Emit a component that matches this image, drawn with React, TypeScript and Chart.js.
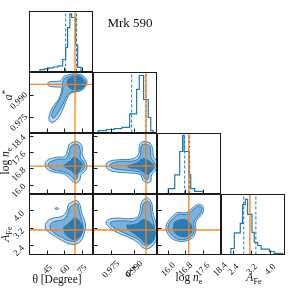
import React, { useEffect, useRef } from "react";
import { Chart, registerables } from "chart.js";
Chart.register(...registerables);

// ---------------- data ----------------
const THETA_X_RANGE = [29.2, 83.9];
const ASTAR_X_RANGE = [0.9637, 1.0043];
const ASTAR_Y_RANGE = [0.9646, 1.0056];
const LOGNE_X_RANGE = [15.49, 18.41];
const LOGNE_Y_RANGE = [15.59, 18.55];
const AFE_X_RANGE = [1.87, 4.62];
const AFE_Y_RANGE = [1.976, 4.75];
const HIST_Y_RANGE = [0, 1];

const THETA_TICKS = [45, 60, 75];
const THETA_TICK_LABELS = ["45", "60", "75"];
const ASTAR_TICKS = [0.975, 0.99];
const ASTAR_TICK_LABELS = ["0.975", "0.990"];
const LOGNE_TICKS = [16.0, 16.8, 17.6, 18.4];
const LOGNE_TICK_LABELS = ["16.0", "16.8", "17.6", "18.4"];
const AFE_TICKS = [2.4, 3.2, 4.0];
const AFE_TICK_LABELS = ["2.4", "3.2", "4.0"];

const THETA_TRUTH = 68.7;
const ASTAR_TRUTH = 0.9975;
const LOGNE_TRUTH = 16.94;
const AFE_TRUTH = 3.11;

const THETA_QUANTILES = [60.6, 70.1];
const ASTAR_QUANTILES = [0.9883, 0.9975];
const LOGNE_QUANTILES = [16.75, 16.98];
const AFE_QUANTILES = [2.84, 3.37];

const thetaHistEdges = [38.3, 42, 46, 50, 54, 58, 60.6, 62.3, 64.3, 65.8, 69.3, 71.0, 73.9, 76.7];
const thetaHistCounts = [0.015, 0.03, 0.045, 0.06, 0.075, 0.095, 0.2, 0.4, 0.73, 0.96, 0.9, 0.44, 0.07];
const aStarHistEdges = [0.9668, 0.972, 0.977, 0.982, 0.987, 0.9915, 0.9932, 0.996, 0.999, 1.0006, 1.0022, 1.0044];
const aStarHistCounts = [0.015, 0.03, 0.05, 0.065, 0.085, 0.31, 0.72, 0.95, 0.55, 0.25, 0.03];
const logNeHistEdges = [15.99, 16.29, 16.52, 16.65, 16.72, 16.95, 17.03, 17.21, 17.6, 18.4];
const logNeHistCounts = [0.02, 0.08, 0.31, 0.7, 0.97, 0.7, 0.31, 0.08, 0.035];
const aFeHistEdges = [2.28, 2.43, 2.69, 2.79, 2.91, 3.01, 3.2, 3.3, 3.45, 3.6, 3.96, 4.17, 4.54, 4.62];
const aFeHistCounts = [0.02, 0.1, 0.36, 0.52, 0.83, 0.92, 0.67, 0.37, 0.2, 0.15, 0.09, 0.05, 0.02];

type Pt = [number, number];

const thetaAStarOuter: Pt[] = [[59.4,1.0032],[65.8,1.0045],[71.6,1.0045],[76.8,1.0027],[79.1,1.0],[77.9,0.9961],[73.9,0.9932],[68.7,0.9923],[64.3,0.9909],[61.4,0.987],[58.6,0.9813],[55.1,0.9757],[51.3,0.9723],[47.9,0.9716],[46.1,0.9734],[47.0,0.9779],[49.9,0.9825],[54.2,0.987],[56.5,0.9916],[57.1,0.995],[52.8,0.9957],[47.0,0.9961],[45.0,0.9977],[46.1,0.9991],[51.3,0.9995],[56.5,1.0],[58.0,1.0018]];
const thetaAStarMid: Pt[] = [[60.0,1.0018],[67.2,1.0036],[73.9,1.0029],[77.9,0.9995],[76.5,0.9957],[72.1,0.9934],[65.8,0.9923],[62.3,0.9904],[60.0,0.987],[56.5,0.9813],[52.8,0.9768],[49.9,0.9745],[48.4,0.9763],[50.7,0.9813],[54.2,0.9859],[57.1,0.9904],[58.0,0.995],[57.7,0.9984]];
const thetaAStarInner: Pt[] = [[62.9,1.0013],[68.7,1.0029],[74.5,1.0018],[76.8,0.9984],[74.5,0.995],[68.7,0.9939],[63.8,0.9952],[62.0,0.9984]];

const thetaLogNeOuter: Pt[] = [[68.7,18.16],[73.0,18.08],[75.0,17.84],[75.0,17.51],[77.9,17.18],[79.1,16.93],[77.3,16.69],[73.9,16.52],[73.0,16.28],[70.1,16.11],[67.2,16.16],[62.9,16.39],[58.6,16.56],[49.9,16.65],[44.1,16.82],[42.7,17.05],[45.5,17.26],[52.8,17.38],[60.0,17.43],[62.3,17.75],[63.8,18.03]];
const thetaLogNeMid: Pt[] = [[68.7,18.03],[72.1,17.95],[73.3,17.67],[73.3,17.38],[76.2,17.13],[77.1,16.92],[75.0,16.72],[71.6,16.59],[70.4,16.33],[68.1,16.28],[64.3,16.49],[58.6,16.65],[50.7,16.75],[46.1,16.9],[45.5,17.05],[48.4,17.18],[54.2,17.28],[60.6,17.31],[63.5,17.59],[65.2,17.92]];
const thetaLogNeInner: Pt[] = [[58.6,16.97],[64.3,17.18],[68.1,17.38],[71.6,17.26],[75.0,17.02],[73.0,16.77],[69.3,16.52],[65.8,16.72],[61.4,16.85]];

const aStarLogNeOuter: Pt[] = [[0.99689,18.16],[1.00011,18.08],[1.00183,17.8],[1.00225,17.43],[1.0044,17.18],[1.00483,16.93],[1.00333,16.69],[1.00118,16.52],[1.00054,16.19],[0.99839,16.11],[0.99582,16.23],[0.99367,16.52],[0.98723,16.6],[0.97865,16.65],[0.97328,16.77],[0.97178,16.98],[0.97393,17.18],[0.98079,17.26],[0.98938,17.31],[0.9926,17.51],[0.99324,17.92],[0.99431,18.11]];
const aStarLogNeMid: Pt[] = [[0.9971,18.03],[0.99968,17.95],[1.00054,17.7],[1.00075,17.38],[1.00268,17.15],[1.00333,16.93],[1.00183,16.72],[0.99968,16.6],[0.99904,16.33],[0.99753,16.28],[0.99582,16.44],[0.99324,16.64],[0.98723,16.72],[0.97865,16.79],[0.97479,16.9],[0.97436,17.02],[0.9765,17.11],[0.98187,17.18],[0.99045,17.21],[0.99367,17.43],[0.99431,17.84],[0.99517,18.0]];
const aStarLogNeInner: Pt[] = [[0.98509,16.93],[0.99152,17.1],[0.99582,17.31],[0.99904,17.21],[1.00225,16.98],[1.00118,16.72],[0.99839,16.52],[0.99582,16.65],[0.99152,16.82],[0.98723,16.85]];

const thetaAFeOuter: Pt[] = [[65.8,4.4],[70.1,4.47],[73.0,4.28],[74.5,3.9],[76.8,3.59],[77.9,3.28],[76.8,2.97],[74.5,2.66],[70.1,2.46],[64.3,2.46],[58.6,2.59],[52.8,2.77],[47.0,2.97],[43.0,3.2],[44.5,3.51],[49.9,3.66],[57.1,3.74],[61.4,3.97],[62.9,4.28]];
const thetaAFeMid: Pt[] = [[67.2,4.28],[71.0,4.31],[72.4,3.97],[74.5,3.59],[75.9,3.28],[75.0,2.97],[72.4,2.71],[68.7,2.59],[62.9,2.62],[57.1,2.77],[51.3,2.94],[47.9,3.12],[47.3,3.36],[51.3,3.51],[58.6,3.59],[62.3,3.85],[64.3,4.16]];
const thetaAFeInner: Pt[] = [[58.6,3.23],[63.5,3.43],[68.7,3.66],[73.0,3.48],[75.6,3.17],[73.3,2.86],[68.7,2.66],[63.5,2.77],[60.0,2.97]];
const thetaAFeIsland: Pt[] = [[51.1,4.1],[52.8,4.14],[54.5,4.1],[52.8,4.05]];

const aStarAFeOuter: Pt[] = [[0.99582,4.51],[0.99839,4.59],[1.00118,4.36],[1.00183,3.97],[1.00333,3.59],[1.0044,3.2],[1.0044,2.74],[1.00225,2.43],[0.99904,2.25],[0.99582,2.28],[0.9926,2.51],[0.98723,2.74],[0.97972,2.97],[0.97436,3.2],[0.97178,3.43],[0.97328,3.59],[0.97865,3.66],[0.98616,3.63],[0.99152,3.69],[0.99367,3.97],[0.9941,4.28]];
const aStarAFeMid: Pt[] = [[0.99625,4.36],[0.99904,4.43],[1.00054,4.2],[1.00075,3.9],[1.00225,3.51],[1.00333,3.12],[1.00311,2.74],[1.00118,2.51],[0.99839,2.4],[0.99539,2.46],[0.9926,2.66],[0.98723,2.85],[0.98037,3.08],[0.97543,3.28],[0.97436,3.43],[0.9765,3.51],[0.98294,3.54],[0.98938,3.51],[0.9926,3.66],[0.99474,3.9],[0.99517,4.2]];
const aStarAFeInner: Pt[] = [[0.98509,3.33],[0.99152,3.39],[0.99582,3.59],[0.99904,3.51],[1.00268,3.2],[1.00268,2.74],[1.00011,2.51],[0.99689,2.51],[0.99367,2.74],[0.98938,2.97],[0.98616,3.12]];

const logNeAFeOuter: Pt[] = [[16.11,3.68],[16.42,3.91],[16.8,3.91],[17.03,4.06],[17.26,4.25],[17.44,4.3],[17.6,4.19],[17.6,3.91],[17.41,3.68],[17.26,3.45],[17.26,3.06],[17.11,2.75],[16.8,2.6],[16.42,2.6],[16.11,2.75],[15.91,3.06],[15.91,3.37]];
const logNeAFeMid: Pt[] = [[16.19,3.63],[16.46,3.83],[16.83,3.83],[17.08,3.99],[17.29,4.17],[17.44,4.22],[17.54,4.11],[17.5,3.91],[17.34,3.71],[17.18,3.48],[17.18,3.06],[17.03,2.8],[16.77,2.68],[16.45,2.68],[16.19,2.83],[16.0,3.09],[16.0,3.36]];
const logNeAFeInner: Pt[] = [[16.26,3.45],[16.49,3.57],[16.8,3.57],[17.03,3.37],[17.08,3.06],[16.92,2.86],[16.65,2.8],[16.37,2.91],[16.23,3.14]];

// ---------------- style / layout ----------------
const W = 292;
const H = 291;
const COL_LEFT = [29.5, 93.5, 157.5, 221.5];
const ROW_TOP = [11.5, 72.5, 133.5, 194.5];
const PANEL_W = 63;
const PANEL_H = 60;
const BLUE = "#1f77b4";
const FILL_OUTER = "#bdd6eb";
const FILL_MID = "#7cb0d8";
const FILL_INNER = "#2b7bb7";
const ORANGE = "rgba(255,127,14,0.92)";
const SPINE = "#1a1a1a";
const FONT = '"Liberation Serif", "Times New Roman", serif';
const TICK_FONT = 9;
const TICK_LEN = 4;
const XLABEL_CENTER_OFFSET = 15;
const YLABEL_CENTER_OFFSET_X = 10.5;
const YLABEL_CENTER_OFFSET_Y = 5.5;

const VARS: any = {
  theta: { xRange: THETA_X_RANGE, ticks: THETA_TICKS, labels: THETA_TICK_LABELS, truth: THETA_TRUTH, q: THETA_QUANTILES, edges: thetaHistEdges, counts: thetaHistCounts },
  astar: { xRange: ASTAR_X_RANGE, yRange: ASTAR_Y_RANGE, ticks: ASTAR_TICKS, labels: ASTAR_TICK_LABELS, truth: ASTAR_TRUTH, q: ASTAR_QUANTILES, edges: aStarHistEdges, counts: aStarHistCounts },
  logne: { xRange: LOGNE_X_RANGE, yRange: LOGNE_Y_RANGE, ticks: LOGNE_TICKS, labels: LOGNE_TICK_LABELS, truth: LOGNE_TRUTH, q: LOGNE_QUANTILES, edges: logNeHistEdges, counts: logNeHistCounts },
  afe: { xRange: AFE_X_RANGE, yRange: AFE_Y_RANGE, ticks: AFE_TICKS, labels: AFE_TICK_LABELS, truth: AFE_TRUTH, q: AFE_QUANTILES, edges: aFeHistEdges, counts: aFeHistCounts },
};

const PANELS: any[] = [
  { row: 0, col: 0, x: "theta" },
  { row: 1, col: 0, x: "theta", y: "astar", levels: [thetaAStarOuter, thetaAStarMid, thetaAStarInner] },
  { row: 1, col: 1, x: "astar" },
  { row: 2, col: 0, x: "theta", y: "logne", levels: [thetaLogNeOuter, thetaLogNeMid, thetaLogNeInner] },
  { row: 2, col: 1, x: "astar", y: "logne", levels: [aStarLogNeOuter, aStarLogNeMid, aStarLogNeInner] },
  { row: 2, col: 2, x: "logne" },
  { row: 3, col: 0, x: "theta", y: "afe", levels: [thetaAFeOuter, thetaAFeMid, thetaAFeInner], islands: [thetaAFeIsland] },
  { row: 3, col: 1, x: "astar", y: "afe", levels: [aStarAFeOuter, aStarAFeMid, aStarAFeInner] },
  { row: 3, col: 2, x: "logne", y: "afe", levels: [logNeAFeOuter, logNeAFeMid, logNeAFeInner] },
  { row: 3, col: 3, x: "afe" },
];

const closed = (pts: Pt[]) => [...pts, pts[0]].map(([x, y]) => ({ x, y }));

function contour(pts: Pt[], fill: string, order: number) {
  return {
    data: closed(pts), showLine: true, fill: "shape", backgroundColor: fill,
    borderColor: BLUE, borderWidth: 0.9, pointRadius: 0, tension: 0.4, order,
  };
}

function segment(a: Pt, b: Pt, color: string, width: number, dash: number[], order: number) {
  return {
    data: [{ x: a[0], y: a[1] }, { x: b[0], y: b[1] }], showLine: true, fill: false,
    borderColor: color, borderWidth: width, borderDash: dash, pointRadius: 0, order,
  };
}

function histogram(edges: number[], counts: number[]) {
  const data = [{ x: edges[0], y: 0 }];
  counts.forEach((c, i) => data.push({ x: edges[i], y: c }));
  data.push({ x: edges[edges.length - 1], y: 0 });
  return { data, showLine: true, stepped: "after", fill: false, borderColor: BLUE, borderWidth: 1.2, pointRadius: 0, order: 3 };
}

function axesPlugin(spec: any) {
  return {
    id: "cornerAxes",
    afterDatasetsDraw(chart: any) {
      const { ctx, chartArea: a } = chart;
      const xs = chart.scales.x;
      const ys = chart.scales.y;
      ctx.save();
      ctx.strokeStyle = SPINE;
      ctx.lineWidth = 1;
      ctx.strokeRect(a.left, a.top, a.right - a.left, a.bottom - a.top);
      ctx.beginPath();
      spec.xTicks.forEach((v: number) => {
        const p = Math.round(xs.getPixelForValue(v) - 0.5) + 0.5;
        ctx.moveTo(p, a.bottom);
        ctx.lineTo(p, a.bottom - TICK_LEN);
      });
      if (spec.yTicks) spec.yTicks.forEach((v: number) => {
        const p = Math.round(ys.getPixelForValue(v) - 0.5) + 0.5;
        ctx.moveTo(a.left, p);
        ctx.lineTo(a.left + TICK_LEN, p);
      });
      ctx.stroke();
      ctx.fillStyle = "#111";
      ctx.font = `${TICK_FONT}px ${FONT}`;
      ctx.textAlign = "center";
      ctx.textBaseline = "middle";
      if (spec.xLabels) spec.xTicks.forEach((v: number, i: number) => {
        ctx.save();
        ctx.translate(xs.getPixelForValue(v), a.bottom + XLABEL_CENTER_OFFSET);
        ctx.rotate(-Math.PI / 4);
        ctx.fillText(spec.xLabels[i], 0, 0);
        ctx.restore();
      });
      if (spec.yLabels) spec.yTicks.forEach((v: number, i: number) => {
        ctx.save();
        ctx.translate(a.left - YLABEL_CENTER_OFFSET_X, ys.getPixelForValue(v) + YLABEL_CENTER_OFFSET_Y);
        ctx.rotate(-Math.PI / 4);
        ctx.fillText(spec.yLabels[i], 0, 0);
        ctx.restore();
      });
      ctx.restore();
    },
  };
}

function buildConfig(p: any) {
  const xv = VARS[p.x];
  const yv = p.y ? VARS[p.y] : null;
  const xr = xv.xRange;
  const yr = yv ? yv.yRange : HIST_Y_RANGE;
  const datasets: any[] = [];
  const ext = (r: number[]) => [r[0] - (r[1] - r[0]), r[1] + (r[1] - r[0])];
  const ye = ext(yr);
  const xe = ext(xr);
  if (!yv) {
    datasets.push(histogram(xv.edges, xv.counts));
    xv.q.forEach((q: number) => datasets.push(segment([q, ye[0]], [q, ye[1]], BLUE, 1, [3, 2], 2)));
    datasets.push(segment([xv.truth, ye[0]], [xv.truth, ye[1]], ORANGE, 1.4, [], 1));
  } else {
    datasets.push(contour(p.levels[0], FILL_OUTER, 10));
    (p.islands || []).forEach((isl: Pt[]) => datasets.push(contour(isl, FILL_OUTER, 10)));
    datasets.push(contour(p.levels[1], FILL_MID, 9));
    datasets.push(contour(p.levels[2], FILL_INNER, 8));
    datasets.push(segment([xv.truth, ye[0]], [xv.truth, ye[1]], ORANGE, 1.4, [], 1));
    datasets.push(segment([xe[0], yv.truth], [xe[1], yv.truth], ORANGE, 1.4, [], 1));
  }
  const left = COL_LEFT[p.col];
  const top = ROW_TOP[p.row];
  const spec = {
    xTicks: xv.ticks,
    yTicks: yv ? yv.ticks : null,
    xLabels: p.row === 3 ? xv.labels : null,
    yLabels: yv && p.col === 0 ? yv.labels : null,
  };
  return {
    type: "scatter",
    data: { datasets },
    options: {
      animation: false,
      responsive: false,
      events: [],
      layout: { padding: { left, top, right: W - left - PANEL_W, bottom: H - top - PANEL_H } },
      scales: {
        x: { type: "linear", display: false, min: xr[0], max: xr[1] },
        y: { type: "linear", display: false, min: yr[0], max: yr[1] },
      },
      elements: { line: { capBezierPoints: false } },
      plugins: { legend: { display: false }, tooltip: { enabled: false } },
    },
    plugins: [axesPlugin(spec)],
  } as any;
}

function Panel({ p }: { p: any }) {
  const ref = useRef<HTMLCanvasElement>(null);
  useEffect(() => {
    const chart = new Chart(ref.current as HTMLCanvasElement, buildConfig(p));
    return () => chart.destroy();
  }, []);
  return <canvas ref={ref} width={W} height={H} style={{ position: "absolute", left: 0, top: 0, width: W, height: H }} />;
}

const txt = (x: number, y: number, size: number, rot: number, content: any, key: string) => (
  <div key={key} style={{
    position: "absolute", left: x, top: y, fontSize: size, lineHeight: 1, whiteSpace: "nowrap",
    transform: `translate(-50%, -50%) rotate(${rot}deg)`, fontFamily: FONT, color: "#111",
  }}>{content}</div>
);
const sub = (s: string) => <span style={{ fontSize: "0.72em", verticalAlign: "-0.3em" }}>{s}</span>;
const sup = (s: string) => <span style={{ fontSize: "0.8em", verticalAlign: "0.35em" }}>{s}</span>;

export default function App() {
  return (
    <div style={{ position: "fixed", left: 0, top: 0, width: W, height: H, background: "#fff", overflow: "hidden" }}>
      {PANELS.map((p, i) => <Panel key={i} p={p} />)}
      {txt(130, 21.5, 13, 0, "Mrk 590", "title")}
      {txt(57, 279.5, 11.5, 0, <span>θ [Degree]</span>, "xl0")}
      {txt(131, 272, 11.5, 0, <span><i>a</i>{sup("*")}</span>, "xl1")}
      {txt(189, 279, 11.5, 0, <span>log <i>n</i>{sub("e")}</span>, "xl2")}
      {txt(254, 279, 11.5, 0, <span><i>A</i>{sub("Fe")}</span>, "xl3")}
      {txt(8, 95, 11.5, -90, <span><i>a</i>{sup("*")}</span>, "yl1")}
      {txt(7, 161, 11.5, -90, <span>log <i>n</i>{sub("e")}</span>, "yl2")}
      {txt(7, 234, 11.5, -90, <span><i>A</i>{sub("Fe")}</span>, "yl3")}
    </div>
  );
}
